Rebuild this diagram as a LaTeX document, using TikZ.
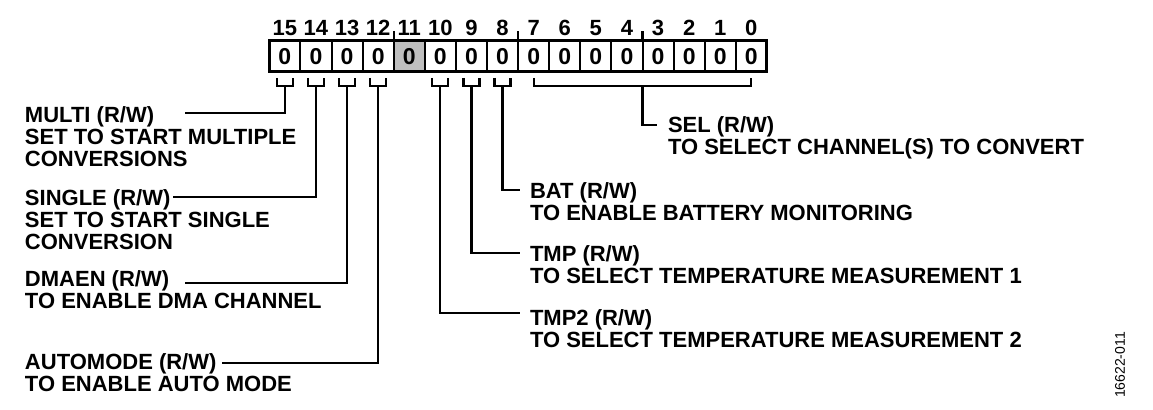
\documentclass[tikz,border=0pt]{standalone}
\usepackage{fontspec}
\setmainfont{Liberation Sans}
\usetikzlibrary{calc}
\definecolor{cellgray}{RGB}{190,190,190}
\begin{document}
\begin{tikzpicture}[x=0.5pt,y=-0.5pt,
  cell/.style={draw, line width=1pt, minimum width=15.55pt, minimum height=15.5pt, inner sep=0pt, outer sep=0pt, font=\fontsize{11.5}{11.5}\selectfont\bfseries},
  bitnum/.style={anchor=base, inner sep=0pt, font=\fontsize{11}{11}\selectfont\bfseries},
  lbl/.style={anchor=north west, align=left, inner sep=0pt, outer sep=0pt, font=\fontsize{11}{11}\selectfont\bfseries},
  conn/.style={line width=1.1pt},
  ]
\useasboundingbox (0,0) rectangle (1153,410);
% shaded reserved bit
\fill[cellgray] (393.7,41) rectangle (424.8,72);
\foreach \i in {0,...,15} {
  \pgfmathtruncatemacro\b{15-\i}
  \node[cell] (b\b) at ({269.3+(\i+0.5)*31.1},56.5) {0};
  \node[bitnum] (n\b) at ({269.3+(\i+0.5)*31.1},36) {\b};
}
\draw[line width=1.5pt] (b15.north west) rectangle (b0.south east);
% nibble ticks
\foreach \b in {12,8,4} \draw[conn] (b\b.north east) -- ++(0,-10);
% single-bit brackets
\foreach \b in {15,14,13,12,10,9,8}
  \draw[conn] ($(b\b.south)+(-8,6)$) -- ++(0,8) -- ++(16,0) -- ++(0,-8);
% SEL bracket
\draw[conn] ($(b7.south)+(0,6)$) -- ++(0,8) -| ($(b0.south)+(0,6)$);

% labels
\node[lbl] (multi) at (25,106.5) {MULTI (R/W)\\SET TO START MULTIPLE\\CONVERSIONS};
\node[lbl] (single) at (25,190) {SINGLE (R/W)\\SET TO START SINGLE\\CONVERSION};
\node[lbl] (dmaen) at (25,271) {DMAEN (R/W)\\TO ENABLE DMA CHANNEL};
\node[lbl] (auto) at (25,354) {AUTOMODE (R/W)\\TO ENABLE AUTO MODE};
\node[lbl] (sel) at (668,117) {SEL (R/W)\\TO SELECT CHANNEL(S) TO CONVERT};
\node[lbl] (bat) at (530,182.5) {BAT (R/W)\\TO ENABLE BATTERY MONITORING};
\node[lbl] (tmp) at (530,246) {TMP (R/W)\\TO SELECT TEMPERATURE MEASUREMENT 1};
\node[lbl] (tmptwo) at (530,310) {TMP2 (R/W)\\TO SELECT TEMPERATURE MEASUREMENT 2};
\node[rotate=90, inner sep=0pt, font=\fontsize{7}{7}\selectfont] (fig) at (1120,365) {16622-011};

% connector ends
\coordinate (mc) at (185,113);
\coordinate (sc) at (173,197);
\coordinate (dc) at (185,283);
\coordinate (ac) at (222,363);
\coordinate (selc) at (657,125);
\coordinate (batc) at (520,190);
\coordinate (tmpc) at (520,253);
\coordinate (tmptwoc) at (520,313);

\draw[conn] ($(b15.south)+(0,14)$) |- (mc);
\draw[conn] ($(b14.south)+(0,14)$) |- (sc);
\draw[conn] ($(b13.south)+(0,14)$) |- (dc);
\draw[conn] ($(b12.south)+(0,14)$) |- (ac);
\draw[conn] ($(b4.south east)+(0,14)$) |- (selc);
\draw[conn] ($(b8.south)+(0,14)$) |- (batc);
\draw[conn] ($(b9.south)+(0,14)$) |- (tmpc);
\draw[conn] ($(b10.south)+(0,14)$) |- (tmptwoc);
\end{tikzpicture}
\end{document}
